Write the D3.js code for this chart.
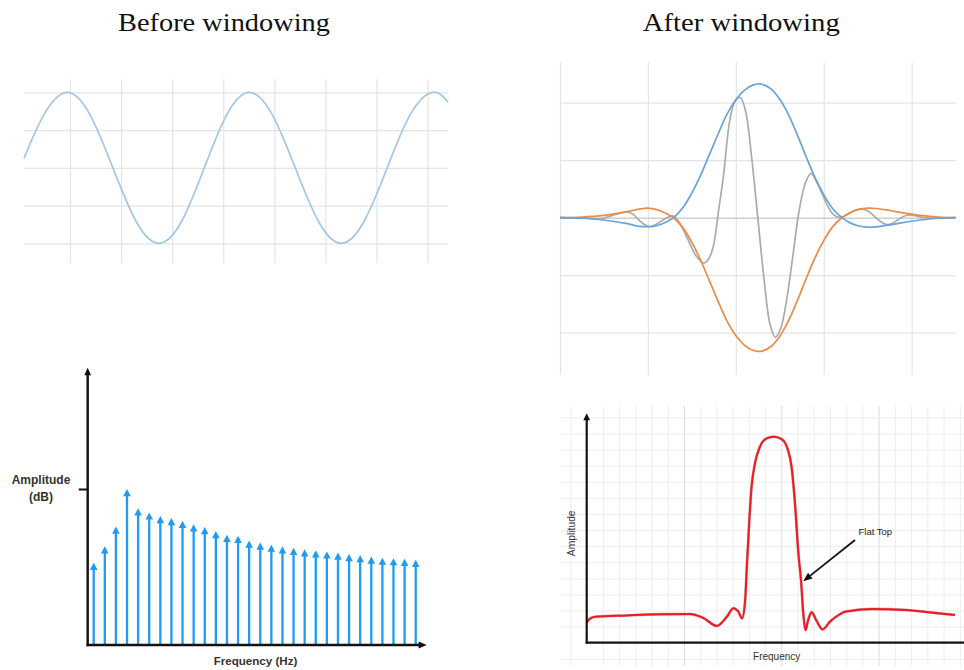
<!DOCTYPE html>
<html>
<head>
<meta charset="utf-8">
<script src="https://cdn.jsdelivr.net/npm/d3@7"></script>
<style>
  html, body { margin: 0; padding: 0; background: #fff; }
  svg { display: block; }
</style>
</head>
<body>
<svg id="fig" width="964" height="670"></svg>
<script>
// ---------- data ----------
const panelTitles = ["Before windowing", "After windowing"];

// Pure tone before windowing (time in grid units, amplitude in grid units)
const sineT = [0.10, 0.49, 0.94, 1.39, 1.84, 2.29, 2.74, 3.19, 3.63, 4.07, 4.51, 4.96, 5.41, 5.86, 6.31, 6.76, 7.21, 7.66, 8.10, 8.40];
const sineV = [0.25, 1.41, 2.00, 1.41, 0.00, -1.41, -2.00, -1.41, 0.00, 1.41, 2.00, 1.41, 0.00, -1.41, -2.00, -1.41, 0.00, 1.41, 2.00, 1.74];

// Windowed signal: upper envelope, lower envelope and windowed wave
const envT   = [0, 0.25, 0.50, 0.75, 0.90, 1.00, 1.10, 1.214, 1.30, 1.40, 1.50, 1.60, 1.70, 1.80, 1.90, 2.00, 2.10, 2.20, 2.25, 2.30, 2.40, 2.50, 2.60, 2.70, 2.80, 2.90, 3.00, 3.10, 3.20, 3.30, 3.40, 3.50, 3.60, 3.75, 3.90, 4.10, 4.30, 4.50];
const upperV = [0, -0.01, -0.04, -0.10, -0.15, -0.157, -0.14, -0.07, 0.01, 0.18, 0.43, 0.74, 1.10, 1.46, 1.80, 2.05, 2.22, 2.31, 2.325, 2.32, 2.24, 2.06, 1.79, 1.44, 1.06, 0.70, 0.40, 0.16, 0.01, -0.09, -0.145, -0.165, -0.16, -0.125, -0.085, -0.04, -0.01, 0];
const lowerV = [0, 0.01, 0.04, 0.10, 0.15, 0.165, 0.14, 0.07, -0.01, -0.18, -0.43, -0.74, -1.10, -1.46, -1.80, -2.05, -2.22, -2.31, -2.325, -2.32, -2.24, -2.06, -1.79, -1.44, -1.06, -0.70, -0.40, -0.16, -0.01, 0.09, 0.145, 0.165, 0.16, 0.125, 0.085, 0.04, 0.01, 0];
const waveT = [0, 0.30, 0.45, 0.60, 0.76, 0.83, 0.89, 0.95, 1.02, 1.09, 1.15, 1.22, 1.29, 1.365, 1.44, 1.555, 1.64, 1.69, 1.744, 1.80, 1.858, 1.934, 1.99, 2.05, 2.11, 2.18, 2.25, 2.32, 2.39, 2.45, 2.51, 2.58, 2.65, 2.72, 2.79, 2.855, 2.92, 2.98, 3.04, 3.10, 3.16, 3.24, 3.31, 3.38, 3.45, 3.52, 3.58, 3.65, 3.72, 3.79, 3.85, 3.92, 3.98, 4.05, 4.15, 4.30, 4.50];
const waveV = [0, -0.01, -0.02, 0.04, 0.10, 0.06, -0.03, -0.11, -0.155, -0.12, -0.06, 0.0, 0.03, -0.10, -0.33, -0.68, -0.79, -0.72, -0.50, 0.08, 0.71, 1.72, 2.02, 2.09, 1.86, 1.05, 0.0, -1.05, -1.86, -2.08, -1.93, -1.41, -0.65, 0.12, 0.60, 0.77, 0.62, 0.42, 0.22, 0.07, 0.01, 0.03, 0.09, 0.14, 0.15, 0.10, 0.02, -0.07, -0.12, -0.09, -0.03, 0.03, 0.05, 0.03, 0.0, -0.005, 0];

// Leakage spectrum lines (dB)
const bins = d3.range(1, 31);
const binDb = [15.8, 19.0, 22.8, 30.0, 26.3, 25.5, 24.8, 24.4, 23.9, 23.2, 22.7, 21.9, 21.2, 21.0, 20.1, 19.7, 19.3, 19.0, 18.7, 18.4, 18.2, 18.0, 17.8, 17.5, 17.3, 17.0, 16.8, 16.7, 16.6, 16.4];
const specRefTick = [30];
const specLabels = { y: ["Amplitude", "(dB)"], x: "Frequency (Hz)" };

// Flat-top window response
const ftFreq = [0, 0.87, 2.2, 10.6, 19.4, 27.4, 30.9, 34.5, 37.1, 38.9, 40.2, 41.2, 42.0, 42.4, 43.1, 43.7, 44.6, 45.9, 47.7, 49.6, 51.7, 53.2, 54.3, 55.2, 56.1, 56.8, 57.4, 58.0, 58.7, 59.6, 60.8, 62.5, 64.5, 67.1, 68.5, 75.5, 84.4, 93.2, 97.6];
const ftAmp  = [8.7, 10.5, 11.3, 11.9, 12.4, 12.5, 10.8, 7.3, 11.2, 15.0, 13.5, 10.6, 18.6, 31.7, 53.5, 68.0, 78.2, 85.4, 89.1, 89.8, 88.7, 84.7, 76.7, 60.8, 39.0, 27.3, 12.8, 5.5, 9.9, 13.3, 9.9, 5.8, 9.2, 12.4, 13.5, 14.7, 14.3, 12.8, 12.1];
const ftLabels = { y: "Amplitude", x: "Frequency", note: "Flat Top" };
const ftNotePoint = [57.0, 27.0];   // where the annotation arrow points (freq, amp)

// ---------- drawing ----------
const svg = d3.select("#fig");
svg.append("rect").attr("width", 964).attr("height", 670).attr("fill", "#fff");

const zip = (a, b) => a.map((v, i) => [v, b[i]]);

// Titles
svg.selectAll("text.title").data(panelTitles).join("text")
  .attr("class", "title")
  .attr("x", (d, i) => [224, 741.3][i])
  .attr("y", 30.5)
  .attr("text-anchor", "middle")
  .attr("font-family", "'Liberation Serif', 'Times New Roman', serif")
  .attr("font-size", 25)
  .attr("textLength", (d, i) => [212, 197][i])
  .attr("lengthAdjust", "spacingAndGlyphs")
  .attr("fill", "#111")
  .text(d => d);

// helper: grid from axis generators
function gridLines(g, axis, color, width) {
  g.call(axis).call(s => s.select(".domain").remove());
  g.selectAll(".tick line").attr("stroke", color).attr("stroke-width", width);
}

// ---- Panel 1: sine ----
{
  const x = d3.scaleLinear().domain([0.1, 8.4]).range([24, 448]);
  const y = d3.scaleLinear().domain([-2, 2]).range([243.3, 92.3]);
  const g = svg.append("g");
  gridLines(g.append("g").attr("transform", `translate(0,${y(-2.52)})`),
    d3.axisBottom(x).tickValues(d3.range(1, 9)).tickSize(-(y(-2.52) - y(2.35))).tickFormat(""), "#e4e4e4", 1.2);
  gridLines(g.append("g").attr("transform", `translate(${x(0.1)},0)`),
    d3.axisLeft(y).tickValues([-2, -1, 0, 1, 2]).tickSize(-(x(8.4) - x(0.1))).tickFormat(""), "#e4e4e4", 1.2);
  g.append("path")
    .datum(zip(sineT, sineV))
    .attr("fill", "none")
    .attr("stroke", "#a2c6e6")
    .attr("stroke-width", 1.7)
    .attr("d", d3.line().x(d => x(d[0])).y(d => y(d[1])).curve(d3.curveNatural));
}

// ---- Panel 2: windowed signal ----
{
  const x = d3.scaleLinear().domain([0, 4.5]).range([560, 955.6]);
  const y = d3.scaleLinear().domain([-2, 2]).range([332.7, 102.7]);
  const g = svg.append("g");
  gridLines(g.append("g").attr("transform", `translate(0,${y(-2.73)})`),
    d3.axisBottom(x).tickValues([0, 1, 2, 3, 4]).tickSize(-(y(-2.73) - y(2.7))).tickFormat(""), "#e4e4e4", 1.2);
  gridLines(g.append("g").attr("transform", `translate(${x(0)},0)`),
    d3.axisLeft(y).tickValues([-2, -1, 1, 2]).tickSize(-(x(4.5) - x(0))).tickFormat(""), "#e4e4e4", 1.2);
  gridLines(g.append("g").attr("transform", `translate(${x(0)},0)`),
    d3.axisLeft(y).tickValues([0]).tickSize(-(x(4.5) - x(0))).tickFormat(""), "#cfcfcf", 1.4);
  const line = d3.line().x(d => x(d[0])).y(d => y(d[1])).curve(d3.curveCatmullRom.alpha(0.5));
  const series = [
    { t: waveT, v: waveV, c: "#ababab" },
    { t: envT, v: lowerV, c: "#ed8a45" },
    { t: envT, v: upperV, c: "#6aa3d8" }
  ];
  g.selectAll("path.sig").data(series).join("path")
    .attr("class", "sig")
    .attr("fill", "none")
    .attr("stroke", d => d.c)
    .attr("stroke-width", 1.7)
    .attr("d", d => line(zip(d.t, d.v)));
}

// ---- Panel 3: leakage spectrum ----
{
  const x = d3.scalePoint().domain(bins).range([93.7, 415.7]);
  const y = d3.scaleLinear().domain([0, 30]).range([645, 489]);
  const axisX0 = 87.7, yTop = y(53.3), xEnd = 426.7;
  const g = svg.append("g");
  const blue = "#1f9bef";
  // stems
  g.selectAll("line.stem").data(bins).join("line")
    .attr("class", "stem")
    .attr("x1", d => x(d)).attr("x2", d => x(d))
    .attr("y1", y(0)).attr("y2", (d, i) => y(binDb[i]) + 5)
    .attr("stroke", blue).attr("stroke-width", 2.3);
  g.selectAll("path.head").data(bins).join("path")
    .attr("class", "head")
    .attr("fill", blue)
    .attr("d", (d, i) => {
      const cx = x(d), ty = y(binDb[i]);
      return `M${cx - 3.8},${ty + 7.2}L${cx},${ty}L${cx + 3.8},${ty + 7.2}Z`;
    });
  // axes
  g.append("line").attr("x1", axisX0).attr("x2", axisX0).attr("y1", y(0) + 1.2).attr("y2", yTop + 5)
    .attr("stroke", "#111").attr("stroke-width", 2.4);
  g.append("path").attr("fill", "#111")
    .attr("d", `M${axisX0 - 3.4},${yTop + 7.5}L${axisX0},${yTop}L${axisX0 + 3.4},${yTop + 7.5}Z`);
  g.append("line").attr("x1", axisX0 - 1.2).attr("x2", xEnd - 5).attr("y1", y(0)).attr("y2", y(0))
    .attr("stroke", "#111").attr("stroke-width", 2.4);
  g.append("path").attr("fill", "#111")
    .attr("d", `M${xEnd - 8},${y(0) - 3.6}L${xEnd},${y(0)}L${xEnd - 8},${y(0) + 3.6}Z`);
  g.append("g").attr("transform", `translate(${axisX0},0)`)
    .call(d3.axisLeft(y).tickValues(specRefTick).tickSize(9).tickFormat(""))
    .call(s => s.select(".domain").remove())
    .selectAll(".tick line").attr("stroke", "#111").attr("stroke-width", 2);
  // labels
  g.selectAll("text.ylab").data(specLabels.y).join("text")
    .attr("class", "ylab")
    .attr("x", 41).attr("y", (d, i) => 484 + i * 16.5)
    .attr("text-anchor", "middle")
    .attr("font-family", "'Liberation Sans', Arial, sans-serif")
    .attr("font-weight", "bold").attr("font-size", 12).attr("fill", "#333")
    .text(d => d);
  g.append("text")
    .attr("x", 255.5).attr("y", 665)
    .attr("text-anchor", "middle")
    .attr("font-family", "'Liberation Sans', Arial, sans-serif")
    .attr("font-weight", "bold").attr("font-size", 11.6).attr("fill", "#333")
    .text(specLabels.x);
}

// ---- Panel 4: flat-top response ----
{
  const x = d3.scaleLinear().domain([0, 100]).range([586.7, 964]);
  const y = d3.scaleLinear().domain([0, 100]).range([642.7, 413.3]);
  const gx = d3.scaleLinear().domain([0, 1]).range([586.7, 586.7 + 16.22]);
  const gy = d3.scaleLinear().domain([0, 1]).range([642.7, 642.7 - 16.1]);
  const g = svg.append("g");
  const left = 561, right = 964, top = 406, bottom = 666;
  const colsMinor = d3.range(-1, 24).filter(k => k % 6 !== 0);
  const colsMajor = d3.range(-1, 24).filter(k => k % 6 === 0 && k !== 0);
  const rows = d3.range(-1, 15).filter(k => k !== 0);
  gridLines(g.append("g").attr("transform", `translate(0,${bottom})`),
    d3.axisBottom(gx).tickValues(colsMinor).tickSize(-(bottom - top)).tickFormat(""), "#ededed", 1);
  gridLines(g.append("g").attr("transform", `translate(0,${bottom})`),
    d3.axisBottom(gx).tickValues(colsMajor).tickSize(-(bottom - top)).tickFormat(""), "#dcdcdc", 1);
  gridLines(g.append("g").attr("transform", `translate(${left},0)`),
    d3.axisLeft(gy).tickValues(rows).tickSize(-(right - left)).tickFormat(""), "#ededed", 1);

  const line = d3.line().x(d => x(d[0])).y(d => y(d[1])).curve(d3.curveMonotoneX);
  const pts = zip(ftFreq, ftAmp);
  g.append("path").datum(pts).attr("fill", "none")
    .attr("stroke", "#6a1010").attr("stroke-opacity", 0.35).attr("stroke-width", 2.8).attr("d", line);
  g.append("path").datum(pts).attr("fill", "none")
    .attr("stroke", "#f2181e").attr("stroke-width", 2).attr("d", line);

  // axes
  const x0 = x(0), y0 = y(0), yTop = 413.3;
  g.append("line").attr("x1", x0).attr("x2", x0).attr("y1", y0 + 1).attr("y2", yTop + 5)
    .attr("stroke", "#111").attr("stroke-width", 2.2);
  g.append("path").attr("fill", "#111")
    .attr("d", `M${x0 - 3.4},${yTop + 7}L${x0},${yTop}L${x0 + 3.4},${yTop + 7}Z`);
  g.append("line").attr("x1", x0 - 1).attr("x2", 964).attr("y1", y0).attr("y2", y0)
    .attr("stroke", "#111").attr("stroke-width", 2.2);

  // annotation
  const tip = [x(ftNotePoint[0]) + 1.5, y(ftNotePoint[1]) + 0.5];
  const tail = [855, 540];
  const ang = Math.atan2(tip[1] - tail[1], tip[0] - tail[0]);
  const hl = 9, hw = 3.6;
  const bx = tip[0] - hl * Math.cos(ang), by = tip[1] - hl * Math.sin(ang);
  g.append("line").attr("x1", tail[0]).attr("y1", tail[1]).attr("x2", bx).attr("y2", by)
    .attr("stroke", "#111").attr("stroke-width", 1.8);
  g.append("path").attr("fill", "#111")
    .attr("d", `M${tip[0]},${tip[1]}L${bx + hw * Math.sin(ang)},${by - hw * Math.cos(ang)}L${bx - hw * Math.sin(ang)},${by + hw * Math.cos(ang)}Z`);
  g.append("text").attr("x", 858.5).attr("y", 535)
    .attr("font-family", "'Liberation Sans', Arial, sans-serif").attr("font-size", 9.5).attr("fill", "#222")
    .text(ftLabels.note);

  g.append("text").attr("transform", `translate(574.5,533.3) rotate(-90)`)
    .attr("text-anchor", "middle")
    .attr("font-family", "'Liberation Sans', Arial, sans-serif").attr("font-size", 10.3).attr("fill", "#333")
    .text(ftLabels.y);
  g.append("text").attr("x", 776.7).attr("y", 660)
    .attr("text-anchor", "middle")
    .attr("font-family", "'Liberation Sans', Arial, sans-serif").attr("font-size", 10).attr("fill", "#333")
    .text(ftLabels.x);
}
</script>
</body>
</html>
